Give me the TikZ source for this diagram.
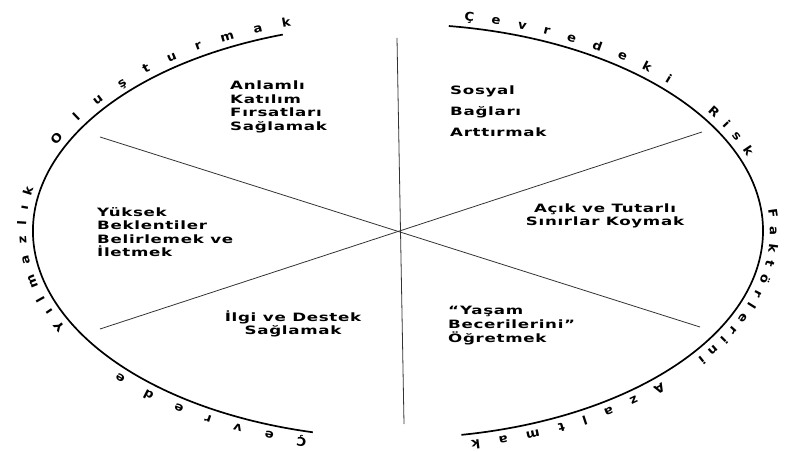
\documentclass[tikz,border=0pt]{standalone}
\usepackage{fontspec}
\usepackage{tikz}
\usetikzlibrary{decorations.text}
\newfontfamily\lblfamily[FakeStretch=1.45,LetterSpace=6]{DejaVu Sans}
\newfontfamily\rimfamily[FakeStretch=1.1]{DejaVu Sans}

\begin{document}
\begin{tikzpicture}[
    x=1pt, y=1pt,
    rim/.style={line width=1.7pt, black},
    divider/.style={line width=0.8pt, black!80},
    block/.style={font=\lblfamily\bfseries\fontsize{11.5}{#1}\selectfont, inner sep=0pt, align=left},
    block/.default=13.5,
    rimword/.style={decorate, decoration={text along path, text={|\rimfamily\bfseries\fontsize{12}{14}\selectfont|#1}, text align=fit to path, raise=7pt}}
]
\useasboundingbox (0,0) rectangle (787,452);

% Centre and dividers
\coordinate (c) at (398,221);
\coordinate (vtop) at (397,414);
\coordinate (vbot) at (404,28);
\coordinate (d1a) at (100,315);
\coordinate (d1b) at (700,125);
\coordinate (d2a) at (100,123);
\coordinate (d2b) at (702,320);

\draw [divider] (vtop) -- (vbot);
\draw [divider] (d1a) -- (d1b);
\draw [divider] (d2a) -- (d2b);

% Outer arcs
\draw [rim] (c) ++(108.4:365 and 207) arc [start angle=108.4, end angle=256.5, x radius=365, y radius=207];
\draw [rim] (c) ++(82:365 and 207) arc [start angle=82, end angle=-80, x radius=365, y radius=207];

% Left rim text
\path [rimword={Çevrede}] (c) ++(255.7:365 and 207) arc [start angle=255.7, end angle=220.9, x radius=365, y radius=207];
\path [rimword={Yılmazlık}] (c) ++(206.3:365 and 207) arc [start angle=206.3, end angle=168.6, x radius=365, y radius=207];
\path [rimword={Oluşturmak}] (c) ++(157:365 and 207) arc [start angle=157, end angle=106.8, x radius=365, y radius=207];

% Right rim text
\path [rimword={Çevredeki}] (c) ++(79.7:365 and 207) arc [start angle=79.7, end angle=43, x radius=365, y radius=207];
\path [rimword={Risk}] (c) ++(33.4:365 and 207) arc [start angle=33.4, end angle=19.8, x radius=365, y radius=207];
\path [rimword={Faktörlerini}] (c) ++(5.8:365 and 207) arc [start angle=5.8, end angle=-36, x radius=365, y radius=207];
\path [rimword={Azaltmak}] (c) ++(-44.5:365 and 207) arc [start angle=-44.5, end angle=-78.6, x radius=365, y radius=207];

% Sectors
\node [block, anchor=west] (anlamli) at (230,345) {Anlamlı\\Katılım\\Fırsatları\\Sağlamak};
\node [block=21, anchor=west] (sosyal) at (450,341) {Sosyal\\Bağları\\Arttırmak};
\node [block, anchor=west] (yuksek) at (97,220) {Yüksek\\Beklentiler\\Belirlemek ve\\İletmek};
\node [block=13, align=center] (acik) at (605,236) {Açık ve Tutarlı\\Sınırlar Koymak};
\node [block=12.5, align=center] (ilgi) at (293,128) {İlgi ve Destek\\Sağlamak};
\node [block=14, anchor=west] (yasam) at (448,126) {“Yaşam\\Becerilerini”\\Öğretmek};

\end{tikzpicture}
\end{document}
